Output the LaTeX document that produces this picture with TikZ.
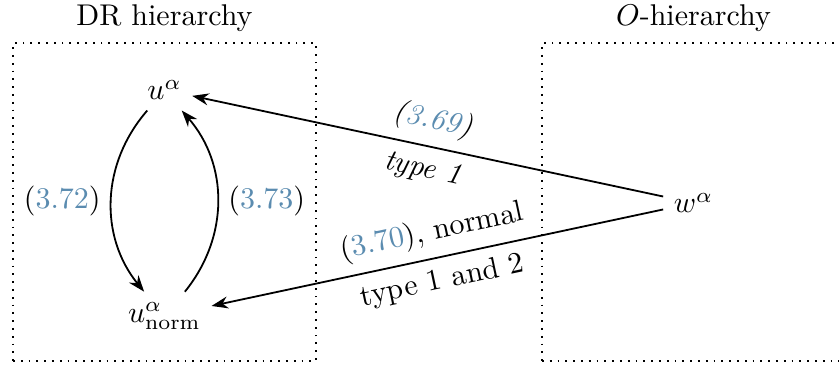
\documentclass[tikz,border=0pt]{standalone}
\usepackage{xcolor}
\usepackage{tikz}
\usetikzlibrary{arrows.meta, positioning}
\definecolor{eqblue}{RGB}{91,140,176}
\tikzset{
  hbox/.style={
    rectangle, draw, dotted, semithick,
    minimum width=3.55cm, minimum height=3.725cm
  },
  arrow/.style={-{Stealth[length=5.5pt, width=4pt]}, semithick}
}
\newcommand{\eqnum}[1]{(\textcolor{eqblue}{#1})}

\begin{document}
\begin{tikzpicture}
  \useasboundingbox (0,0) rectangle (9.829,4.299);

  % Cajas
  \node[hbox] (dr) at (1.927,1.933) {};
  \node[hbox] (oh) at (8.124,1.933) {};
  \node[above=0pt of dr] (drtitle) {DR hierarchy};
  \node[above=0pt of oh] (ohtitle) {$O$-hierarchy};

  % Nodos
  \node (u) at (1.927,3.245) {$u^\alpha$};
  \node (unorm) at (1.927,0.597) {$u^\alpha_{\mathrm{norm}}$};
  \node (w) at (8.124,1.921) {$w^\alpha$};

  % Flechas internas
  \draw[arrow] (u) to[bend right=40] node[left] {\eqnum{3.72}} (unorm);
  \draw[arrow] (unorm) to[bend right=40] node[right] {\eqnum{3.73}} (u);

  % Flechas entre jerarquias
  \draw[arrow] (w) -- (u)
    node[midway, above, sloped] {\itshape\eqnum{3.69}}
    node[midway, below, sloped] {\itshape type 1};
  \draw[arrow] (w) -- (unorm)
    node[midway, above, sloped] {\eqnum{3.70}, normal}
    node[midway, below, sloped] {type 1 and 2};

\end{tikzpicture}
\end{document}
